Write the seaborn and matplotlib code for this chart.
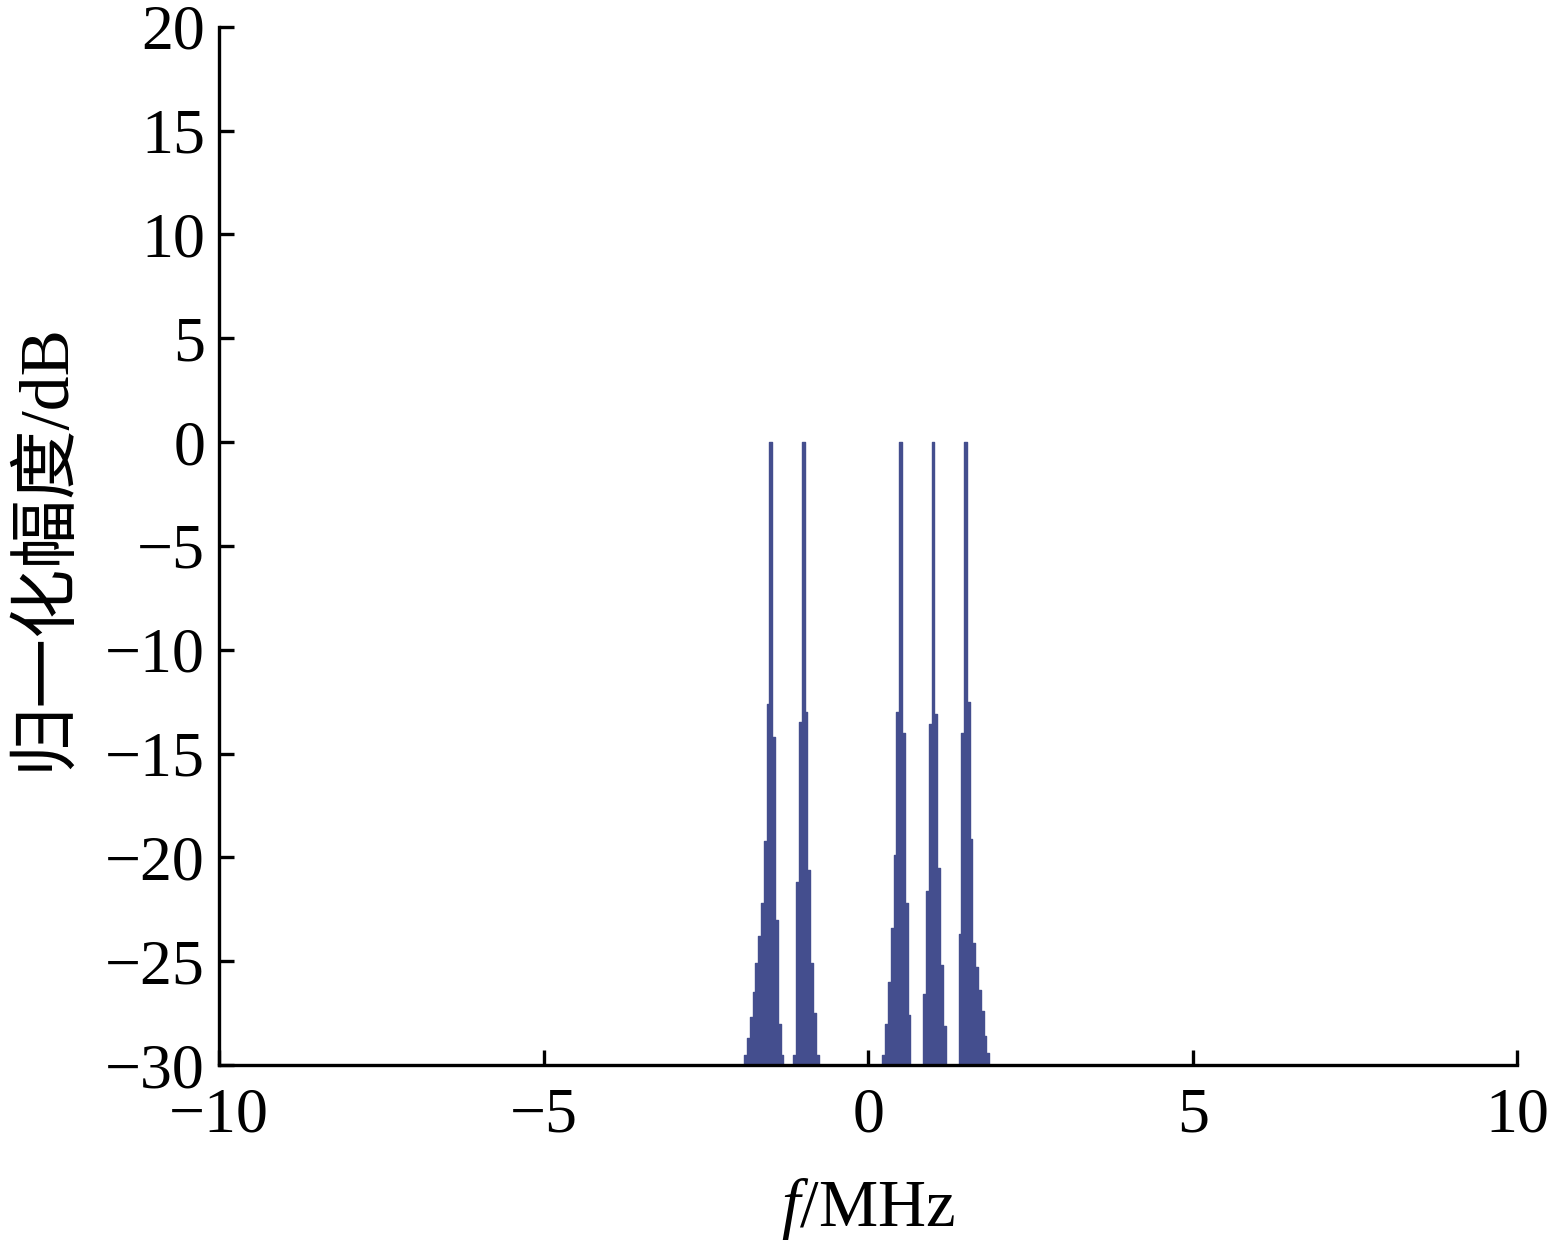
import numpy as np
import matplotlib
matplotlib.use("Agg")
import matplotlib.pyplot as plt
import seaborn as sns

# spectral line centres (MHz) and the dB levels of the bins around each line
centers = [-1.5, -1.0, 0.5, 1.0, 1.5]
peak_level = 0.0
# bins left of the centre, outermost first
left_levels = [
    [-29.5, -28.7, -27.7, -26.5, -25.1, -23.8, -22.2, -19.2, -12.6],
    [-29.5, -21.2, -13.5],
    [-29.5, -28.0, -26.0, -23.4, -19.9, -13.0],
    [-26.6, -21.6, -13.6],
    [-23.7, -14.0],
]
# bins right of the centre, innermost first
right_levels = [
    [-14.2, -23.0, -28.0, -29.5],
    [-13.0, -20.6, -25.1, -27.5, -29.5],
    [-14.0, -22.2, -27.6],
    [-13.1, -20.5, -25.2, -28.1],
    [-12.5, -19.1, -24.1, -25.3, -26.4, -27.4, -28.6, -29.4],
]
bin_width = 0.043
floor_db = -30

xticks = [-10, -5, 0, 5, 10]
yticks = [20, 15, 10, 5, 0, -5, -10, -15, -20, -25, -30]

# assemble the spectrum
freq = [-10.0]
amp = [floor_db]
for c, lv, rv in zip(centers, left_levels, right_levels):
    levels = [floor_db] + lv + [peak_level] + rv + [floor_db]
    n_left = len(lv) + 1
    for i, v in enumerate(levels):
        freq.append(c + (i - n_left) * bin_width)
        amp.append(v)
freq.append(10.0)
amp.append(floor_db)
freq = np.array(freq)
amp = np.array(amp)

sns.set_style("ticks")
plt.rcParams['font.family'] = ['Liberation Serif', 'Noto Sans CJK SC']
plt.rcParams['mathtext.fontset'] = 'custom'
plt.rcParams['mathtext.it'] = 'Liberation Serif:italic'
plt.rcParams['mathtext.rm'] = 'Liberation Serif'
plt.rcParams['axes.unicode_minus'] = True

color = '#444e8e'

fig = plt.figure(figsize=(15.53, 12.48), dpi=100)
ax = fig.add_axes([0.141, 0.1466, 0.836, 0.832])

ax.fill_between(freq, amp, floor_db, step='mid', color=color,
                linewidth=0.6, edgecolor=color)
sns.lineplot(x=freq, y=amp, drawstyle='steps-mid', color=color,
             linewidth=1.0, ax=ax, sort=False)

ax.set_xlim(-10, 10)
ax.set_ylim(-30, 20)
ax.set_xticks(xticks)
ax.set_yticks(yticks)

sns.despine(ax=ax)
for s in ['left', 'bottom']:
    ax.spines[s].set_linewidth(2.4)
    ax.spines[s].set_color('black')
ax.tick_params(direction='in', length=11, width=2.4, labelsize=46,
               colors='black')
ax.tick_params(axis='y', pad=10)
ax.tick_params(axis='x', pad=16)

ax.set_xlabel('$f$/MHz', fontsize=48, labelpad=22, color='black')
ax.set_ylabel('归一化幅度/dB', fontsize=50, labelpad=20, color='black')

fig.savefig('out.png', dpi=100)
